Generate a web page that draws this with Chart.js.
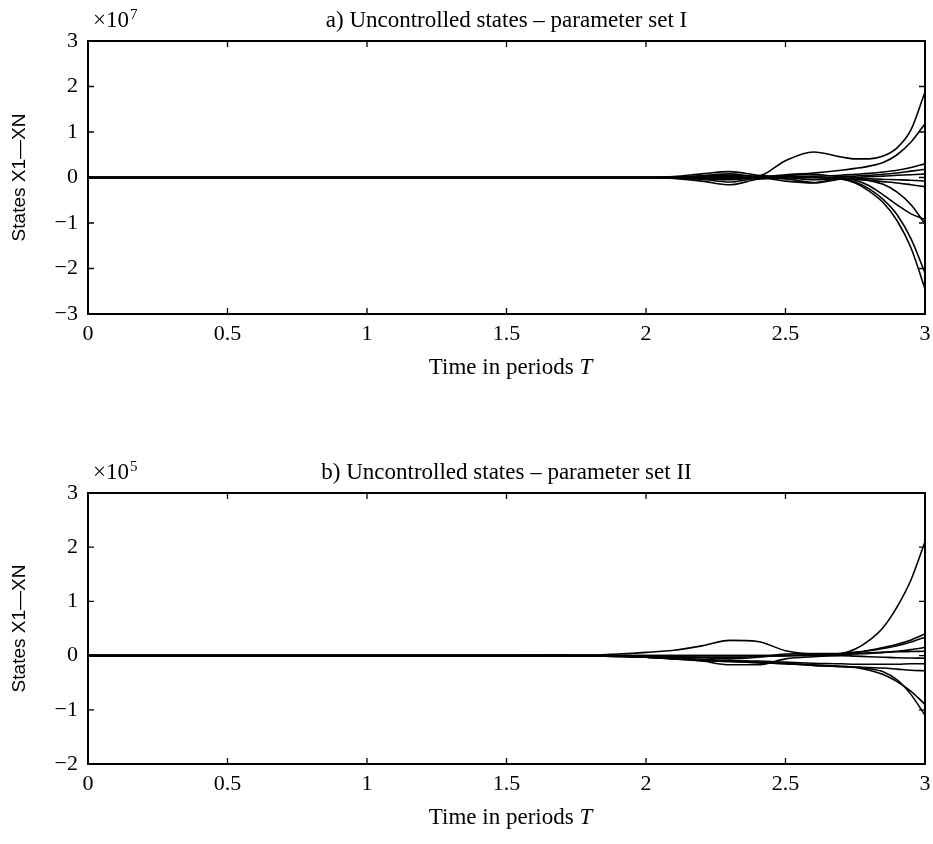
<!DOCTYPE html>
<html><head><meta charset="utf-8">
<script src="https://cdn.jsdelivr.net/npm/chart.js@4.4.1/dist/chart.umd.min.js"></script>
<style>
html,body{margin:0;padding:0;background:#fff;}
#wrap{position:relative;width:933px;height:844px;overflow:hidden;background:#fff;}
canvas{position:absolute;left:0;}
</style>
</head><body>
<div id="wrap">
<canvas id="c1" width="933" height="422" style="top:0px"></canvas>
<canvas id="c2" width="933" height="422" style="top:422px"></canvas>
</div>
<script>
// ---- data ----
const time = [0, 0.5, 1, 1.5, 1.7, 1.8, 1.9, 2.0, 2.1, 2.2, 2.3, 2.4, 2.5, 2.6, 2.7, 2.75, 2.8, 2.85, 2.9, 2.95, 3.0];
const xTicks = [0, 0.5, 1, 1.5, 2, 2.5, 3];
const xTickLabels = ['0', '0.5', '1', '1.5', '2', '2.5', '3'];

// panel a: states in units of 1e7
const yTicksA = [-3, -2, -1, 0, 1, 2, 3];
const yTickLabelsA = ['\u22123', '\u22122', '\u22121', '0', '1', '2', '3'];
const a1 = [0,0,0,0,0,0,0,0,0.01,0.03,0.05,0.03,0.37,0.56,0.45,0.41,0.41,0.47,0.65,1.05,1.88];
const a2 = [0,0,0,0,0,0,0,0,0,-0.02,-0.03,0,0.06,0.1,0.16,0.2,0.25,0.33,0.5,0.78,1.18];
const a3 = [0,0,0,0,0,0,0,0,0.02,0.08,0.13,0.05,0.02,0.03,0.05,0.07,0.09,0.12,0.16,0.22,0.3];
const a4 = [0,0,0,0,0,0,0,0,0.01,0.04,0.08,0.02,0.04,0.07,0.02,0.03,0.05,0.07,0.1,0.14,0.18];
const a5 = [0,0,0,0,0,0,0,0,-0.01,-0.03,-0.05,0,-0.08,-0.12,-0.03,0,0.02,0.03,0.05,0.06,0.08];
const a6 = [0,0,0,0,0,0,0,0,-0.02,-0.08,-0.16,-0.04,0,-0.05,-0.02,-0.02,-0.03,-0.04,-0.05,-0.06,-0.08];
const a7 = [0,0,0,0,0,0,0,0,-0.01,-0.04,-0.1,-0.02,-0.03,-0.11,-0.02,-0.04,-0.06,-0.09,-0.12,-0.16,-0.2];
const a8 = [0,0,0,0,0,0,0,0,0,0.01,0.02,0,0.01,0,-0.02,-0.06,-0.18,-0.38,-0.6,-0.8,-0.92];
const a9 = [0,0,0,0,0,0,0,0,0,0,0,0,0,0,-0.01,-0.03,-0.07,-0.15,-0.32,-0.6,-1.02];
const a10 = [0,0,0,0,0,0,0,0,0,0,-0.01,0,0,0,-0.03,-0.1,-0.25,-0.48,-0.82,-1.35,-2.1];
const a11 = [0,0,0,0,0,0,0,0,0,0,0,0,0.01,0.01,-0.03,-0.12,-0.3,-0.55,-0.95,-1.55,-2.45];

// panel b: states in units of 1e5
const yTicksB = [-2, -1, 0, 1, 2, 3];
const yTickLabelsB = ['\u22122', '\u22121', '0', '1', '2', '3'];
const b1 = [0,0,0,0,0.005,0.01,0.03,0.06,0.1,0.18,0.28,0.26,0.09,0.03,0.02,0.03,0.04,0.06,0.08,0.11,0.15];
const b2 = [0,0,0,0,0,0,0,-0.01,-0.02,-0.03,-0.03,-0.02,0,0.02,0.04,0.12,0.28,0.52,0.9,1.4,2.1];
const b3 = [0,0,0,0,0,0,0,0,0,0,0,0,0,0.02,0.04,0.06,0.09,0.13,0.18,0.25,0.34];
const b4 = [0,0,0,0,0,0,-0.01,-0.02,-0.03,-0.04,-0.06,-0.03,0.03,0.04,0.04,0.04,0.05,0.06,0.07,0.075,0.08];
const b5 = [0,0,0,0,0,0,-0.01,-0.02,-0.05,-0.1,-0.17,-0.17,-0.06,-0.02,0,-0.01,-0.02,-0.03,-0.04,-0.045,-0.05];
const b6 = [0,0,0,0,0,0,-0.01,-0.03,-0.05,-0.07,-0.09,-0.1,-0.12,-0.14,-0.15,-0.16,-0.16,-0.16,-0.16,-0.15,-0.15];
const b7 = [0,0,0,0,0,-0.005,-0.015,-0.03,-0.06,-0.09,-0.11,-0.13,-0.15,-0.18,-0.2,-0.21,-0.22,-0.23,-0.25,-0.27,-0.28];
const b8 = [0,0,0,0,0,-0.005,-0.015,-0.03,-0.06,-0.08,-0.1,-0.12,-0.14,-0.17,-0.2,-0.22,-0.27,-0.35,-0.48,-0.66,-0.9];
const b9 = [0,0,0,0,0,-0.005,-0.015,-0.03,-0.06,-0.09,-0.11,-0.13,-0.15,-0.18,-0.2,-0.21,-0.24,-0.3,-0.45,-0.72,-1.1];
const b10 = [0,0,0,0,0,0,0,0,0,0,0,0,0,0,0.03,0.06,0.1,0.15,0.21,0.29,0.4];

const seriesA = [a1,a2,a3,a4,a5,a6,a7,a8,a9,a10,a11];
const seriesB = [b1,b2,b3,b4,b5,b6,b7,b8,b9,b10];

// ---- chart setup ----
const SERIF = "'Liberation Serif', 'Times New Roman', serif";
Chart.defaults.font.family = SERIF;
Chart.defaults.font.size = 21;
Chart.defaults.color = '#000';

function labelFor(ticks, labels, v) {
  for (let i = 0; i < ticks.length; i++) if (Math.abs(ticks[i] - v) < 1e-9) return labels[i];
  return '';
}

const framePlugin = {
  id: 'frame',
  afterDatasetsDraw(chart, args, o) {
    const {ctx, chartArea: a, scales: {x, y}} = chart;
    ctx.save();
    ctx.strokeStyle = '#000';
    ctx.lineWidth = 2;
    ctx.strokeRect(a.left, a.top, a.right - a.left, a.bottom - a.top);
    ctx.lineWidth = 1.3;
    const L = 6;
    ctx.beginPath();
    xTicks.forEach(v => {
      const px = x.getPixelForValue(v);
      ctx.moveTo(px, a.bottom); ctx.lineTo(px, a.bottom - L);
      ctx.moveTo(px, a.top); ctx.lineTo(px, a.top + L);
    });
    o.yTicks.forEach(v => {
      const py = y.getPixelForValue(v);
      ctx.moveTo(a.left, py); ctx.lineTo(a.left + L, py);
      ctx.moveTo(a.right, py); ctx.lineTo(a.right - L, py);
    });
    ctx.stroke();
    ctx.restore();
  },
  afterDraw(chart, args, o) {
    const {ctx, chartArea: a} = chart;
    ctx.save();
    ctx.fillStyle = '#000';
    ctx.textBaseline = 'alphabetic';
    const cx = (a.left + a.right) / 2;
    // title
    ctx.font = "23px " + SERIF;
    ctx.textAlign = 'center';
    ctx.fillText(o.title, cx, a.top - 14);
    // multiplier
    ctx.textAlign = 'left';
    ctx.font = "23px " + SERIF;
    const base = '\u00d710';
    ctx.fillText(base, a.left + 5, a.top - 14);
    const w = ctx.measureText(base).width;
    ctx.font = "15px " + SERIF;
    ctx.fillText(o.exp, a.left + 5 + w + 1, a.top - 22);
    // x axis title with italic T
    const t1 = 'Time in periods ', t2 = 'T';
    ctx.font = "23px " + SERIF;
    const w1 = ctx.measureText(t1).width;
    ctx.font = "italic 23px " + SERIF;
    const w2 = ctx.measureText(t2).width;
    const sx = cx + 4 - (w1 + w2) / 2;
    ctx.font = "23px " + SERIF;
    ctx.fillText(t1, sx, a.bottom + 60);
    ctx.font = "italic 23px " + SERIF;
    ctx.fillText(t2, sx + w1, a.bottom + 60);
    ctx.restore();
  }
};

function makeChart(id, series, yTicks, yLabels, top, bottom, title, exp) {
  const H = 422;
  return new Chart(document.getElementById(id), {
    type: 'line',
    data: {
      datasets: series.map((s, i) => ({
        label: 'X' + (i + 1),
        data: time.map((t, k) => ({x: t, y: s[k]})),
        borderColor: '#000',
        borderWidth: 1.6,
        pointRadius: 0,
        fill: false,
        cubicInterpolationMode: 'monotone'
      }))
    },
    options: {
      responsive: false,
      animation: false,
      devicePixelRatio: 1,
      layout: {padding: {top: top, right: 8, left: 0, bottom: 0}},
      plugins: {
        legend: {display: false},
        tooltip: {enabled: false},
        frame: {yTicks: yTicks, title: title, exp: exp}
      },
      scales: {
        x: {
          type: 'linear', min: 0, max: 3,
          afterBuildTicks: s => { s.ticks = xTicks.map(v => ({value: v})); },
          afterFit: s => { s.height = H - bottom; s.paddingRight = 0; s.paddingLeft = 0; },
          grid: {display: false, drawTicks: false},
          border: {display: false},
          ticks: {padding: 7, maxRotation: 0, autoSkip: false,
            font: {size: 22},
            callback: v => labelFor(xTicks, xTickLabels, v)}
        },
        y: {
          type: 'linear', min: yTicks[0], max: yTicks[yTicks.length - 1],
          afterBuildTicks: s => { s.ticks = yTicks.map(v => ({value: v})); },
          afterFit: s => { s.width = 88; s.paddingTop = 0; s.paddingBottom = 0; },
          grid: {display: false, drawTicks: false},
          border: {display: false},
          ticks: {padding: 10, autoSkip: false,
            font: {size: 22},
            callback: v => labelFor(yTicks, yLabels, v)},
          title: {display: true, text: 'States X1\u2014XN',
            font: {family: "'Liberation Sans', Arial, sans-serif", size: 19},
            padding: {top: 8, bottom: 0}}
        }
      }
    },
    plugins: [framePlugin]
  });
}

makeChart('c1', seriesA, yTicksA, yTickLabelsA, 41, 314, 'a) Uncontrolled states \u2013 parameter set I', '7');
makeChart('c2', seriesB, yTicksB, yTickLabelsB, 71, 342, 'b) Uncontrolled states \u2013 parameter set II', '5');
</script>
</body></html>
